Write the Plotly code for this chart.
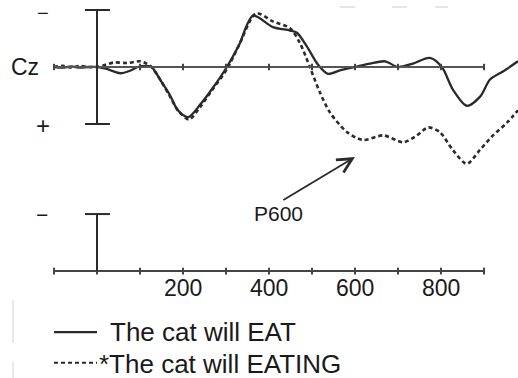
import plotly.graph_objects as go

# ---- data (ms, microvolts; negative plotted up) ----
time_eat = [-100, -80, -60, -40, -20, 0, 20, 40, 55, 75, 95, 115, 127, 150, 170, 188, 212, 240, 270, 302,
            330, 363, 409, 449, 465, 488, 514, 537, 565, 600, 635, 670, 700, 735, 774, 802, 828, 860,
            891, 914, 944, 979]
amp_eat = [0, 0.05, -0.05, 0.05, 0, 0, 0.15, 0.4, 0.55, 0.35, 0, -0.1, 0, 1.3, 2.5, 3.8, 4.4, 3.3, 1.8, 0,
           -1.9, -4.5, -3.5, -3.2, -3.0, -1.8, -0.2, 0.6, 0.3, 0, -0.3, -0.5, 0, -0.3, -0.8, 0, 2.0, 3.4,
           2.6, 1.1, 0.4, -0.5]

time_eating = [-100, -80, -60, -40, -20, 0, 20, 40, 70, 100, 115, 127, 150, 170, 190, 214, 240, 270, 302,
               330, 370, 409, 449, 472, 495, 518, 542, 581, 618, 666, 712, 744, 770, 797, 828, 860, 890,
               921, 953, 979]
amp_eating = [0, -0.1, 0.05, -0.1, 0, 0, -0.2, -0.4, -0.35, -0.5, -0.3, 0, 1.3, 2.6, 3.9, 4.6, 3.5, 1.9,
              0.2, -1.9, -4.7, -4.0, -3.4, -2.1, 0, 2.2, 4.0, 5.7, 6.4, 6.0, 6.6, 6.0, 5.3, 5.7, 7.3, 8.5,
              7.3, 6.0, 4.9, 3.8]

tick_ms = [-100, 0, 100, 200, 300, 400, 500, 600, 700, 800, 900]
tick_labels = ["200", "400", "600", "800"]
tick_label_ms = [200, 400, 600, 800]
legend_names = ["The cat will EAT", "*The cat will EATING"]
calib_uv = 5
time_axis_uv = 17.9
lower_bar_top_uv = 12.9

LINE = "#2a2a2a"
TXT = "#1a1a1a"
FONT = "Liberation Sans, Arial, sans-serif"

fig = go.Figure()

fig.add_trace(go.Scatter(x=time_eat, y=amp_eat, mode="lines",
                         line=dict(color=LINE, width=2.3, shape="spline", smoothing=0.8),
                         name=legend_names[0], showlegend=False))
fig.add_trace(go.Scatter(x=time_eating, y=amp_eating, mode="lines",
                         line=dict(color=LINE, width=2.6, dash="4px,3px", shape="spline", smoothing=0.8),
                         name=legend_names[1], showlegend=False))

shapes = []
# top baseline (Cz)
shapes.append(dict(type="line", xref="x", yref="y", x0=tick_ms[0], x1=tick_ms[-1], y0=0, y1=0,
                   line=dict(color="#555555", width=2)))
for t in tick_ms:
    shapes.append(dict(type="line", xref="x", yref="y", x0=t, x1=t, y0=-0.28, y1=0.28,
                       line=dict(color="#444444", width=2)))
# upper calibration bar
shapes.append(dict(type="line", xref="x", yref="y", x0=0, x1=0, y0=-calib_uv, y1=calib_uv,
                   line=dict(color=LINE, width=2)))
for yv in (-calib_uv, calib_uv):
    shapes.append(dict(type="line", xref="x", yref="y", x0=-28, x1=30, y0=yv, y1=yv,
                       line=dict(color=LINE, width=2)))
# lower time axis
shapes.append(dict(type="line", xref="x", yref="y", x0=tick_ms[0], x1=tick_ms[-1], y0=time_axis_uv,
                   y1=time_axis_uv, line=dict(color="#444444", width=2)))
for t in tick_ms:
    shapes.append(dict(type="line", xref="x", yref="y", x0=t, x1=t, y0=time_axis_uv - 0.3,
                       y1=time_axis_uv + 0.3, line=dict(color="#444444", width=2)))
# lower calibration bar
shapes.append(dict(type="line", xref="x", yref="y", x0=0, x1=0, y0=lower_bar_top_uv, y1=time_axis_uv,
                   line=dict(color=LINE, width=2)))
shapes.append(dict(type="line", xref="x", yref="y", x0=-28, x1=30, y0=lower_bar_top_uv, y1=lower_bar_top_uv,
                   line=dict(color=LINE, width=2)))
# faint scan artifacts
for x0, x1 in ((340, 355), (392, 407), (435, 448)):
    shapes.append(dict(type="line", xref="paper", yref="paper", x0=x0 / 518, x1=x1 / 518,
                       y0=1 - 7 / 378, y1=1 - 7 / 378, line=dict(color="#e4e4e4", width=2)))
shapes.append(dict(type="line", xref="paper", yref="paper", x0=13 / 518, x1=13 / 518,
                   y0=1 - 300 / 378, y1=1 - 343 / 378, line=dict(color="#e8e8e8", width=2)))
shapes.append(dict(type="line", xref="paper", yref="paper", x0=13 / 518, x1=13 / 518,
                   y0=1 - 362 / 378, y1=0, line=dict(color="#e8e8e8", width=2)))

# legend samples
shapes.append(dict(type="line", xref="x", yref="y", x0=-100, x1=0, y0=23.25, y1=23.25,
                   line=dict(color=LINE, width=2.3)))
shapes.append(dict(type="line", xref="x", yref="y", x0=-100, x1=0, y0=25.95, y1=25.95,
                   line=dict(color=LINE, width=2, dash="4px,3px")))

ann = []
ann.append(dict(x=-168, y=0, xref="x", yref="y", text="Cz", showarrow=False,
                font=dict(family=FONT, size=23, color=TXT), xanchor="center", yanchor="middle"))
ann.append(dict(x=-125, y=-4.7, xref="x", yref="y", text="−", showarrow=False,
                font=dict(family=FONT, size=20, color=TXT), xanchor="center", yanchor="middle"))
ann.append(dict(x=-125, y=5.15, xref="x", yref="y", text="+", showarrow=False,
                font=dict(family=FONT, size=24, color=TXT), xanchor="center", yanchor="middle"))
ann.append(dict(x=-128, y=12.95, xref="x", yref="y", text="−", showarrow=False,
                font=dict(family=FONT, size=21, color=TXT), xanchor="center", yanchor="middle"))
for t, lab in zip(tick_label_ms, tick_labels):
    ann.append(dict(x=t, y=time_axis_uv + 1.45, xref="x", yref="y", text=lab, showarrow=False,
                    font=dict(family=FONT, size=23, color=TXT), xanchor="center", yanchor="middle"))
ann.append(dict(x=600, y=7.9, ax=430, ay=11.75, xref="x", yref="y", axref="x", ayref="y",
                text="", showarrow=True, arrowhead=5, arrowsize=1.6, arrowwidth=1.8, arrowcolor=LINE))
ann.append(dict(x=421, y=12.85, xref="x", yref="y", text="P600", showarrow=False,
                font=dict(family=FONT, size=21, color=TXT), xanchor="center", yanchor="middle"))
ann.append(dict(x=25, y=23.25, xref="x", yref="y", text=legend_names[0], showarrow=False,
                font=dict(family=FONT, size=26, color=TXT), xanchor="left", yanchor="middle"))
ann.append(dict(x=1, y=26.05, xref="x", yref="y", text=legend_names[1], showarrow=False,
                font=dict(family=FONT, size=26, color=TXT), xanchor="left", yanchor="middle"))

fig.update_layout(
    width=518, height=378,
    margin=dict(l=0, r=0, t=0, b=0),
    paper_bgcolor="white", plot_bgcolor="white",
    xaxis=dict(range=[-225.6, 979.1], visible=False, fixedrange=True),
    yaxis=dict(range=[27.28, -5.877], visible=False, fixedrange=True),
    shapes=shapes, annotations=ann, showlegend=False,
)

fig.write_html("out.html")
